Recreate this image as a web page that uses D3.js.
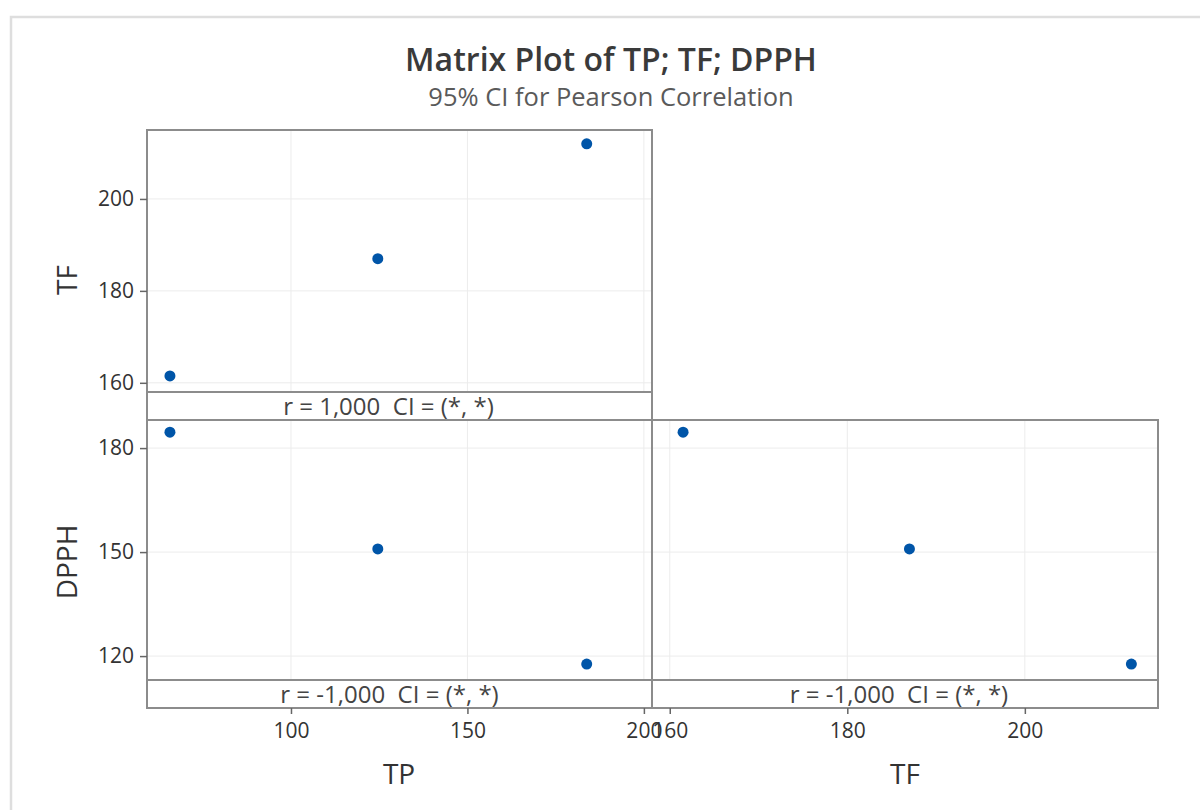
<!DOCTYPE html>
<html>
<head>
<meta charset="utf-8">
<script src="https://cdn.jsdelivr.net/npm/d3@7"></script>
<style>
  html, body { margin: 0; padding: 0; background: #fff; }
  svg { display: block; font-family: "Open Sans", "Noto Sans", sans-serif; }
  .strip { white-space: pre; }
</style>
</head>
<body>
<svg id="chart" width="1200" height="810"></svg>
<script>
// Observations (three samples)
const TP = [65.7, 124.6, 183.8];
const TF = [161.5, 187.0, 212.0];
const DPPH = [184.6, 150.9, 117.7];

// Axis ranges and ticks for each variable
const tpDomain = [59.2, 202.3];
const tfDomain = [158.0, 215.0];
const dpphDomain = [113.1, 188.1];
const tpTicks = [100, 150, 200];
const tfTicks = [160, 180, 200];
const dpphTicks = [120, 150, 180];

// Correlation strip texts
const corrLabels = ["r = 1,000  CI = (*, *)", "r = -1,000  CI = (*, *)", "r = -1,000  CI = (*, *)"];

const title = "Matrix Plot of TP; TF; DPPH";
const subtitle = "95% CI for Pearson Correlation";

const svg = d3.select("#chart");

// light outer frame
svg.append("path")
  .attr("d", "M11,810 V17 H1200")
  .attr("fill", "none").attr("stroke", "#dedede").attr("stroke-width", 2.5);

svg.append("text").attr("x", 611).attr("y", 71)
  .attr("text-anchor", "middle").attr("font-size", 32).attr("font-weight", 600)
  .attr("fill", "#3a3a3a").text(title);
svg.append("text").attr("x", 611).attr("y", 106)
  .attr("text-anchor", "middle").attr("font-size", 25.5)
  .attr("fill", "#5a5a5a").text(subtitle);

// layout of the matrix cells
const colX = [147, 652, 1158];
const rowY = [130, 420, 708];
const stripH = 28;

const xTP = d3.scaleLinear().domain(tpDomain).range([colX[0], colX[1]]);
const xTF = d3.scaleLinear().domain(tfDomain).range([colX[1], colX[2]]);
const yTF = d3.scaleLinear().domain(tfDomain).range([rowY[1] - stripH, rowY[0]]);
const yDPPH = d3.scaleLinear().domain(dpphDomain).range([rowY[2] - stripH, rowY[1]]);

const cells = [
  { x: xTP, y: yTF, xs: TP, ys: TF, xt: tpTicks, yt: tfTicks, label: corrLabels[0], col: 0, row: 0, dx: -11 },
  { x: xTP, y: yDPPH, xs: TP, ys: DPPH, xt: tpTicks, yt: dpphTicks, label: corrLabels[1], col: 0, row: 1, dx: -10 },
  { x: xTF, y: yDPPH, xs: TF, ys: DPPH, xt: tfTicks, yt: dpphTicks, label: corrLabels[2], col: 1, row: 1, dx: -6 }
];

const blue = "#0055a8";
const frame = "#8c8c8c";

cells.forEach(c => {
  const x0 = colX[c.col], x1 = colX[c.col + 1];
  const y0 = rowY[c.row], y1 = rowY[c.row + 1];
  const g = svg.append("g");
  // grid
  g.selectAll(".vg").data(c.xt).join("line")
    .attr("x1", d => c.x(d)).attr("x2", d => c.x(d))
    .attr("y1", y0).attr("y2", y1 - stripH)
    .attr("stroke", "#ececec").attr("stroke-width", 1);
  g.selectAll(".hg").data(c.yt).join("line")
    .attr("x1", x0).attr("x2", x1)
    .attr("y1", d => c.y(d)).attr("y2", d => c.y(d))
    .attr("stroke", "#ececec").attr("stroke-width", 1);
  // points
  g.selectAll("circle").data(c.xs.map((v, i) => [v, c.ys[i]])).join("circle")
    .attr("cx", d => c.x(d[0])).attr("cy", d => c.y(d[1]))
    .attr("r", 5.5).attr("fill", blue);
  // strip
  g.append("line").attr("x1", x0).attr("x2", x1)
    .attr("y1", y1 - stripH).attr("y2", y1 - stripH)
    .attr("stroke", frame).attr("stroke-width", 2);
  g.append("text").attr("class", "strip")
    .attr("x", (x0 + x1) / 2 + c.dx).attr("y", y1 - 5)
    .attr("text-anchor", "middle").attr("font-size", 24).attr("fill", "#444")
    .text(c.label);
  g.append("rect").attr("x", x0).attr("y", y0).attr("width", x1 - x0).attr("height", y1 - y0)
    .attr("fill", "none").attr("stroke", frame).attr("stroke-width", 2);
});

// axes
function styleAxis(sel) {
  sel.select(".domain").remove();
  sel.selectAll(".tick line").attr("stroke", "#666").attr("stroke-width", 1.5);
  sel.selectAll(".tick text").attr("font-size", 21).attr("fill", "#333")
    .attr("font-family", "\"Open Sans\", \"Noto Sans\", sans-serif");
}
svg.append("g").attr("transform", `translate(${colX[0]},0)`)
  .call(d3.axisLeft(yTF).tickValues(tfTicks).tickSize(7).tickPadding(6)).call(styleAxis);
svg.append("g").attr("transform", `translate(${colX[0]},0)`)
  .call(d3.axisLeft(yDPPH).tickValues(dpphTicks).tickSize(7).tickPadding(6)).call(styleAxis);
svg.append("g").attr("transform", `translate(0,${rowY[2]})`)
  .call(d3.axisBottom(xTP).tickValues(tpTicks).tickSize(6).tickPadding(9)).call(styleAxis);
svg.append("g").attr("transform", `translate(0,${rowY[2]})`)
  .call(d3.axisBottom(xTF).tickValues(tfTicks).tickSize(6).tickPadding(9)).call(styleAxis);

// axis titles
const axisTitle = (x, y, rot, t) => svg.append("text")
  .attr("transform", `translate(${x},${y}) rotate(${rot})`)
  .attr("text-anchor", "middle").attr("font-size", 28).attr("fill", "#333").text(t);
axisTitle(77, 280, -90, "TF");
axisTitle(77, 562, -90, "DPPH");
axisTitle(399, 784, 0, "TP");
axisTitle(905, 784, 0, "TF");
</script>
</body>
</html>
